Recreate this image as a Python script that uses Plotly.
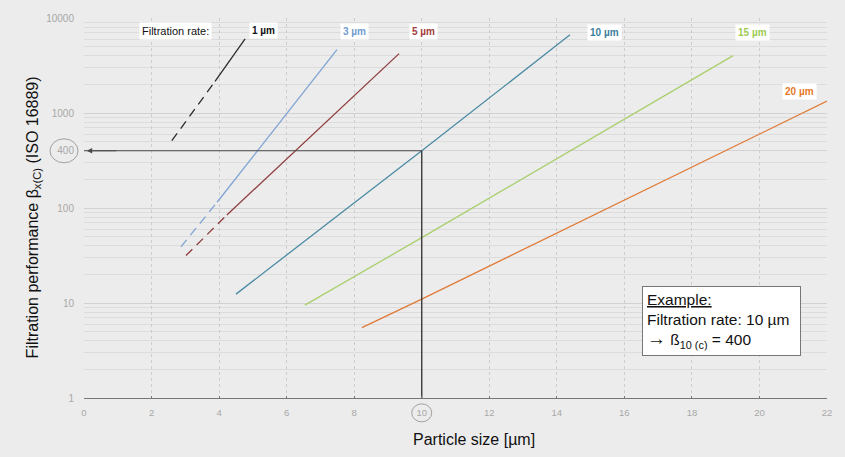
import math
import plotly.graph_objects as go

# ---- data ----
series_names = ["1 µm", "3 µm", "5 µm", "10 µm", "15 µm", "20 µm"]
series_colors = ["#2b2b2b", "#7ea3d3", "#8e3c3c", "#4b8ba3", "#a9cf6c", "#e07a36"]
label_colors = ["#111111", "#6f9bd0", "#a33b3b", "#3b7f9c", "#9ccc55", "#e8782a"]

# dashed (lower) part of each curve: x, y
dash_x = [[2.6, 3.88], [2.87, 3.94], [3.02, 4.23], None, None, None]
dash_y = [[511, 2150], [39, 115], [31.6, 84.5], None, None, None]
# solid (upper) part of each curve: x, y
solid_x = [[3.88, 4.77], [3.94, 7.49], [4.23, 9.33], [4.5, 10.0, 14.39], [6.54, 10.0, 19.22], [8.23, 10.0, 22.0]]
solid_y = [[2150, 6030], [115, 4640], [84.5, 4217], [12.4, 400, 6650], [9.5, 48.7, 4018], [5.5, 11.0, 1334]]

# label positions (x, y) for series names
label_x = [5.3, 8.0, 10.05, 15.4, 19.8, 21.2]
label_y = [7300, 7200, 7200, 7000, 7000, 1700]
legend_title = "Filtration rate:"
legend_title_x = 2.72

x_ticks = [0, 2, 4, 6, 8, 10, 12, 14, 16, 18, 20, 22]
y_ticks = [1, 10, 100, 400, 1000, 10000]
y_ticktext = ["1", "10", "100", "400", "1000", "10000"]

example_x = 10
example_y = 400

BG = "#ececec"
FONT = "Arial, Liberation Sans, sans-serif"

fig = go.Figure()

for i, name in enumerate(series_names):
    if dash_x[i] is not None:
        fig.add_trace(go.Scatter(x=dash_x[i], y=dash_y[i], mode="lines",
                                 line=dict(color=series_colors[i], width=1.3, dash="9px,6px"),
                                 showlegend=False, hoverinfo="skip"))
    fig.add_trace(go.Scatter(x=solid_x[i], y=solid_y[i], mode="lines",
                             line=dict(color=series_colors[i], width=1.3),
                             showlegend=False, name=name))

# reference lines for the example
fig.add_trace(go.Scatter(x=[x_ticks[0], example_x], y=[example_y, example_y], mode="lines",
                         line=dict(color="#4a4a4a", width=1.1), showlegend=False, hoverinfo="skip"))
fig.add_trace(go.Scatter(x=[example_x, example_x], y=[example_y, y_ticks[0]], mode="lines",
                         line=dict(color="#3a3a3a", width=1.4), showlegend=False, hoverinfo="skip"))

annotations = []
# arrow head at left end
annotations.append(dict(x=x_ticks[0] + 0.08, y=math.log10(example_y), ax=1.0, ay=math.log10(example_y),
                        xref="x", yref="y", axref="x", ayref="y", text="", showarrow=True,
                        arrowhead=2, arrowsize=1, arrowwidth=1.1, arrowcolor="#4a4a4a"))

# series labels
annotations.append(dict(x=legend_title_x, y=math.log10(label_y[0]), xref="x", yref="y", text=legend_title,
                        showarrow=False, bgcolor="white", font=dict(family=FONT, size=11, color="#111"),
                        borderpad=2))
for i, name in enumerate(series_names):
    annotations.append(dict(x=label_x[i], y=math.log10(label_y[i]), xref="x", yref="y",
                            text="<b>%s</b>" % name, showarrow=False, bgcolor="white",
                            font=dict(family=FONT, size=10, color=label_colors[i]), borderpad=2))

# example box
annotations.append(dict(x=(642 - 84) / 743, y=(398 - 285) / 384, xref="paper", yref="paper",
                        xanchor="left", yanchor="top", width=149,
                        align="left", showarrow=False, bgcolor="white", bordercolor="#777",
                        borderwidth=1, borderpad=4,
                        text="<u>Example:</u><br>Filtration rate: 10 µm<br>"
                             "<span style='font-size:19px'>→</span> ß<sub>10 (c)</sub> = 400",
                        font=dict(family=FONT, size=15.5, color="#111")))

# axis titles
annotations.append(dict(x=(22 - 84) / 743, y=(398 - 216) / 384, xref="paper", yref="paper", textangle=-90,
                        text="Filtration performance β<sub>x(C)</sub> (ISO 16889)", showarrow=False,
                        font=dict(family=FONT, size=16, color="#111")))
annotations.append(dict(x=(474 - 84) / 743, y=-(440 - 398) / 384, xref="paper", yref="paper",
                        yanchor="middle",
                        text="Particle size [µm]", showarrow=False,
                        font=dict(family=FONT, size=16, color="#111")))

shapes = [
    dict(type="circle", xref="paper", yref="paper", xsizemode="pixel", ysizemode="pixel",
         xanchor=(64 - 84) / 743, yanchor=math.log10(example_y) / 4, x0=-14, x1=14, y0=-12, y1=12,
         line=dict(color="#a0a0a0", width=1)),
    dict(type="circle", xref="x", yref="paper", xsizemode="pixel", ysizemode="pixel",
         xanchor=example_x, yanchor=-(413 - 398) / 384, x0=-10, x1=10, y0=-9, y1=9,
         line=dict(color="#a0a0a0", width=1)),
]

fig.update_layout(
    width=845, height=457,
    margin=dict(l=84, r=18, t=14, b=59),
    paper_bgcolor=BG, plot_bgcolor=BG,
    font=dict(family=FONT),
    annotations=annotations,
    shapes=shapes,
    xaxis=dict(range=[0, 22], tickvals=x_ticks, showgrid=True, gridcolor="#cdcdcd", griddash="dot",
               gridwidth=1, zeroline=False, showline=True, linecolor="#777", linewidth=1,
               ticks="inside", ticklen=2, tickcolor="#777", ticklabelstandoff=6,
               tickfont=dict(size=9.5, color="#a8a8a8", family=FONT)),
    yaxis=dict(type="log", range=[0, 4], tickvals=y_ticks, ticktext=y_ticktext,
               showgrid=True, gridcolor="#d2d2d2", gridwidth=1, zeroline=False, showline=False,
               ticklabelstandoff=9,
               tickfont=dict(size=10, color="#a8a8a8", family=FONT),
               minor=dict(dtick="D1", showgrid=True, gridcolor="#dcdcdc", gridwidth=1)),
)

fig.write_html("out.html", config={"displayModeBar": False},
               post_script="document.body.style.margin='0';document.body.style.background='#ececec';"
                           "document.documentElement.style.overflow='hidden';")
